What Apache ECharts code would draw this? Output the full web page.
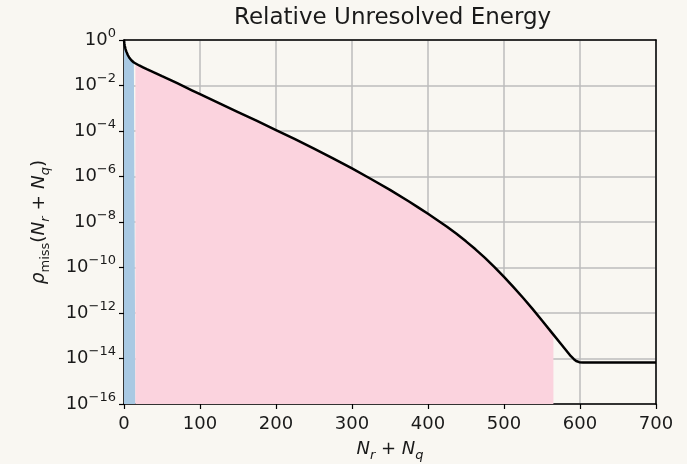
<!DOCTYPE html>
<html>
<head>
<meta charset="utf-8">
<script src="https://cdn.jsdelivr.net/npm/echarts@6/dist/echarts.min.js"></script>
<style>
html,body{margin:0;padding:0;background:#f9f7f2;}
#c{width:687px;height:464px;}
</style>
</head>
<body>
<div id="c"></div>
<script>
// N_r + N_q positions
const xValues = [0, 0.5, 1, 2, 3, 5, 7, 10, 13, 15, 20, 25, 30, 40, 50, 60, 70, 80, 90, 100, 125, 150, 175, 200, 225, 250, 275, 300, 325, 350, 375, 387.5, 400, 412.5, 425, 437.5, 450, 462.5, 475, 487.5, 500, 512.5, 525, 537.5, 550, 565, 575, 588, 592, 595, 599, 604, 700];
// log10 of rho_miss
const rhoExp = [0, -0.15, -0.25, -0.4, -0.5, -0.66, -0.78, -0.9, -0.99, -1.04, -1.12, -1.2, -1.28, -1.43, -1.59, -1.74, -1.9, -2.06, -2.22, -2.38, -2.78, -3.17, -3.56, -3.96, -4.36, -4.77, -5.2, -5.645, -6.11, -6.59, -7.1, -7.37, -7.64, -7.92, -8.21, -8.52, -8.85, -9.2, -9.58, -9.98, -10.41, -10.86, -11.33, -11.82, -12.33, -12.95, -13.36, -13.9, -14.03, -14.11, -14.16, -14.18, -14.18];
// shaded regions (x ranges)
const blueRange = [0, 15];
const pinkRange = [15, 565];
const xTicks = [0, 100, 200, 300, 400, 500, 600, 700];
const yTickExps = [0, -2, -4, -6, -8, -10, -12, -14, -16];

const pts = xValues.map((x, i) => [x, Math.pow(10, rhoExp[i])]);
const inRange = r => pts.filter(p => p[0] >= r[0] && p[0] <= r[1]);

const FONT = 'DejaVu Sans';
const TXT = '#1a1a1a';
const yMin = Math.pow(10, yTickExps[yTickExps.length - 1]);
const yMax = Math.pow(10, yTickExps[0]);
const xMin = xTicks[0], xMax = xTicks[xTicks.length - 1];

const chart = echarts.init(document.getElementById('c'), null, {renderer: 'canvas'});
chart.setOption({
  backgroundColor: '#f9f7f2',
  animation: false,
  title: {
    text: 'Relative Unresolved Energy',
    left: 229, top: 2,
    textStyle: {fontFamily: FONT, fontSize: 23, fontWeight: 'normal', color: TXT}
  },
  grid: {left: 124, right: 31, top: 40, bottom: 60, outerBoundsMode: 'none', containLabel: false},
  xAxis: [{
    type: 'value', min: xMin, max: xMax, interval: 100,
    axisLine: {show: true, onZero: false, lineStyle: {color: '#000', width: 1.5}},
    axisTick: {show: true, length: 5, lineStyle: {color: '#000', width: 1.2}},
    axisLabel: {margin: 11, fontFamily: FONT, fontSize: 18, color: TXT},
    splitLine: {show: true, lineStyle: {color: '#bdbdbd', width: 1.5}},
    name: '{i|N}{sub|r}{n| + }{i|N}{sub|q}',
    nameLocation: 'middle', nameGap: 32,
    nameTextStyle: {
      rich: {
        i: {fontFamily: FONT, fontStyle: 'italic', fontSize: 18, color: TXT, lineHeight: 26, verticalAlign: 'middle'},
        n: {fontFamily: FONT, fontSize: 18, color: TXT, lineHeight: 26, verticalAlign: 'middle'},
        sub: {fontFamily: FONT, fontStyle: 'italic', fontSize: 13, color: TXT, lineHeight: 12, verticalAlign: 'bottom'}
      }
    }
  }, {
    type: 'value', position: 'top', min: xMin, max: xMax,
    axisLine: {show: true, onZero: false, lineStyle: {color: '#000', width: 1.5}},
    axisTick: {show: false}, axisLabel: {show: false}, splitLine: {show: false}
  }],
  yAxis: [{
    type: 'log', logBase: 10, min: yMin, max: yMax, interval: 2,
    axisLine: {show: true, onZero: false, lineStyle: {color: '#000', width: 1.5}},
    axisTick: {show: true, length: 5, lineStyle: {color: '#000', width: 1.2}},
    minorTick: {show: false},
    axisLabel: {
      margin: 8, fontFamily: FONT, color: TXT,
      formatter: v => {
        const e = Math.round(Math.log10(v));
        return '{b|10}{s|' + (e < 0 ? '\u2212' + (-e) : e) + '}';
      },
      rich: {
        b: {fontFamily: FONT, fontSize: 18, color: TXT, lineHeight: 26, verticalAlign: 'middle'},
        s: {fontFamily: FONT, fontSize: 13, color: TXT, lineHeight: 13, verticalAlign: 'top'}
      }
    },
    splitLine: {show: true, lineStyle: {color: '#bdbdbd', width: 1.5}},
    name: '{i|\u03c1}{sub|miss}{n|(}{i|N}{sub2|r}{n| + }{i|N}{sub2|q}{n|)}',
    nameLocation: 'middle', nameGap: 72, nameRotate: 90,
    nameTextStyle: {
      rich: {
        i: {fontFamily: FONT, fontStyle: 'italic', fontSize: 18.5, color: TXT, lineHeight: 26, verticalAlign: 'middle'},
        n: {fontFamily: FONT, fontSize: 18.5, color: TXT, lineHeight: 26, verticalAlign: 'middle'},
        sub: {fontFamily: FONT, fontSize: 13, color: TXT, lineHeight: 12, verticalAlign: 'bottom'},
        sub2: {fontFamily: FONT, fontStyle: 'italic', fontSize: 13, color: TXT, lineHeight: 12, verticalAlign: 'bottom'}
      }
    }
  }, {
    type: 'log', logBase: 10, position: 'right', min: yMin, max: yMax,
    axisLine: {show: true, onZero: false, lineStyle: {color: '#000', width: 1.5}},
    axisTick: {show: false}, axisLabel: {show: false}, splitLine: {show: false}, minorTick: {show: false}
  }],
  series: [
    {
      type: 'line', data: inRange(blueRange), symbol: 'none', silent: true,
      lineStyle: {width: 0, opacity: 0},
      areaStyle: {color: '#a9c9e3', opacity: 1, origin: 'start'},
      z: 1
    },
    {
      type: 'line', data: inRange(pinkRange), symbol: 'none', silent: true,
      lineStyle: {width: 0, opacity: 0},
      areaStyle: {color: '#fbd3de', opacity: 1, origin: 'start'},
      z: 1
    },
    {
      type: 'line', data: pts, symbol: 'none', silent: true,
      lineStyle: {color: '#000', width: 2.5, join: 'round'},
      z: 5
    }
  ]
});
</script>
</body>
</html>
